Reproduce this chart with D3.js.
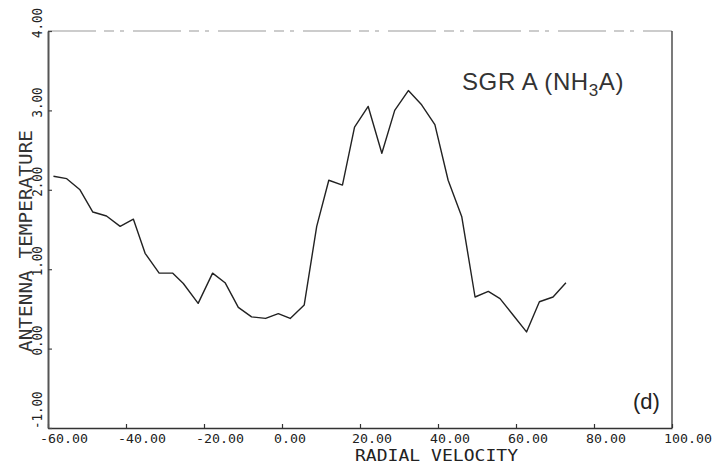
<!DOCTYPE html>
<html>
<head>
<meta charset="utf-8">
<script src="https://cdn.jsdelivr.net/npm/d3@7"></script>
<style>
  html, body { margin: 0; padding: 0; background: #fff; }
  svg { display: block; }
</style>
</head>
<body>
<svg id="chart" width="712" height="465"></svg>
<script>
// ---- data ----
const velocity = [-58.6,-55.2,-51.8,-48.5,-45.0,-41.5,-38.1,-35.1,-31.5,-28.0,
  -25.3,-21.5,-17.8,-14.6,-11.2,-7.8,-4.2,-0.95,2.1,5.7,
  8.9,12.0,15.5,18.6,22.1,25.6,28.9,32.4,35.8,39.2,
  42.6,46.1,49.5,52.9,55.9,59.3,62.7,66.0,69.5,72.8];
const temperature = [2.17,2.14,2.00,1.72,1.67,1.54,1.63,1.20,0.95,0.95,
  0.82,0.57,0.95,0.83,0.52,0.40,0.38,0.44,0.38,0.55,
  1.54,2.12,2.06,2.79,3.05,2.46,3.00,3.25,3.07,2.82,
  2.12,1.66,0.65,0.72,0.63,0.42,0.21,0.59,0.65,0.83];
const xTicks = [-60, -40, -20, 0, 20, 40, 60, 80, 100];
const xTickLabels = ["-60.00","-40.00","-20.00","0.00","20.00","40.00","60.00","80.00","100.00"];
const yTicks = [-1, 0, 1, 2, 3, 4];
const yTickLabels = ["-1.00","0.00","1.00","2.00","3.00","4.00"];
const xTitle = "RADIAL VELOCITY";
const yTitle = "ANTENNA TEMPERATURE";
const panelLabel = "(d)";

// ---- layout ----
const L = 48, R = 672, T = 31, B = 428;
const svg = d3.select("#chart");
const x = d3.scaleLinear().domain([-60, 100]).range([L, R]);
const y = d3.scaleLinear().domain([-1, 4]).range([B, T]);
const mono = "'DejaVu Sans Mono', 'Liberation Mono', monospace";
const ink = "#222";

// frame: top (plotter-broken, faint) and right
svg.append("line").attr("x1", L).attr("x2", R).attr("y1", T).attr("y2", T)
  .attr("stroke", "#999").attr("stroke-width", 1).attr("stroke-dasharray", "48,8,10,6,4,9");
svg.append("line").attr("x1", R).attr("x2", R).attr("y1", T).attr("y2", B)
  .attr("stroke", "#333").attr("stroke-width", 1.3);

// axes (ticks inward)
const gx = svg.append("g").attr("transform", `translate(0,${B})`)
  .call(d3.axisBottom(x).tickValues(xTicks).tickSize(-4).tickSizeOuter(0).tickFormat(""));
gx.select(".domain").attr("stroke", "#333").attr("stroke-width", 1.6);
gx.selectAll(".tick line").attr("stroke", "#333").attr("stroke-width", 1.2);

const gy = svg.append("g").attr("transform", `translate(${L},0)`)
  .call(d3.axisLeft(y).tickValues(yTicks).tickSize(-4).tickSizeOuter(0).tickFormat(""));
gy.select(".domain").attr("stroke", "#555").attr("stroke-width", 2);
gy.selectAll(".tick line").attr("stroke", "#444").attr("stroke-width", 1.2);

// x tick labels
svg.append("g").selectAll("text").data(xTicks).join("text")
  .attr("x", d => x(d) - 8)
  .attr("y", 443)
  .attr("font-family", mono).attr("font-size", 12.5).attr("fill", ink)
  .attr("textLength", (d, i) => xTickLabels[i].length * 8)
  .attr("lengthAdjust", "spacingAndGlyphs")
  .text((d, i) => xTickLabels[i]);

// y tick labels (rotated)
svg.append("g").selectAll("text").data(yTicks).join("text")
  .attr("transform", (d, i) => {
    const off = yTickLabels[i].startsWith("-") ? 1 : 7;
    return `translate(42,${y(d) + off}) rotate(-90)`;
  })
  .attr("font-family", mono).attr("font-size", 13.5).attr("fill", ink)
  .attr("textLength", (d, i) => yTickLabels[i].length * 7.5)
  .attr("lengthAdjust", "spacingAndGlyphs")
  .text((d, i) => yTickLabels[i]);

// axis titles
svg.append("text").attr("x", 355).attr("y", 461)
  .attr("font-family", mono).attr("font-size", 16.5).attr("fill", ink)
  .attr("textLength", 163).attr("lengthAdjust", "spacingAndGlyphs")
  .text(xTitle);
svg.append("text").attr("transform", "translate(32,352) rotate(-90)")
  .attr("font-family", mono).attr("font-size", 18).attr("fill", "#333")
  .attr("textLength", 222).attr("lengthAdjust", "spacingAndGlyphs")
  .text(yTitle);

// spectrum line
const line = d3.line().x((d, i) => x(velocity[i])).y(d => y(d));
svg.append("path").datum(temperature)
  .attr("d", line).attr("fill", "none")
  .attr("stroke", ink).attr("stroke-width", 1.4).attr("stroke-linejoin", "round");

// source label
const lbl = svg.append("text").attr("x", 462).attr("y", 90)
  .attr("font-family", "'Liberation Sans', Arial, sans-serif").attr("font-size", 24)
  .attr("letter-spacing", 0.6).attr("fill", "#333");
lbl.append("tspan").text("SGR A (NH");
lbl.append("tspan").attr("font-size", 17).attr("dy", 6).text("3");
lbl.append("tspan").attr("dy", -6).text("A)");

// panel label
svg.append("text").attr("x", 633).attr("y", 409)
  .attr("font-family", "'Liberation Sans', Arial, sans-serif").attr("font-size", 22).attr("fill", "#222")
  .text(panelLabel);
</script>
</body>
</html>
